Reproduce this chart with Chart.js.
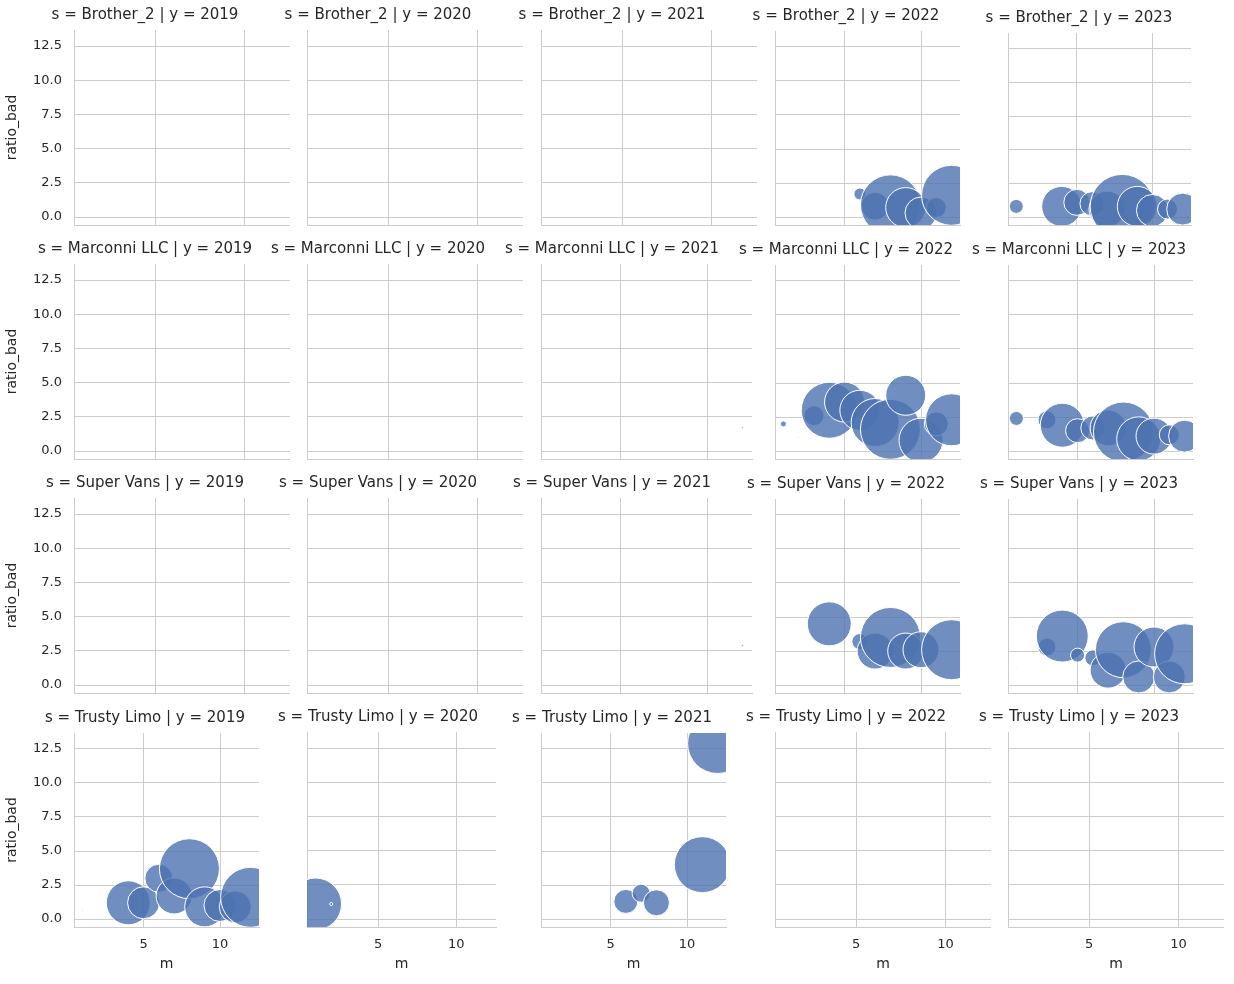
<!DOCTYPE html>
<html><head><meta charset="utf-8">
<script src="https://cdn.jsdelivr.net/npm/chart.js@4"></script>
<style>body{margin:0;background:#fff;width:1234px;height:984px;position:relative;overflow:hidden}canvas{position:absolute}</style>
</head><body>
<script>
const services = ["Brother_2","Marconni LLC","Super Vans","Trusty Limo"];
const years = [2019,2020,2021,2022,2023];
const yTicks = [0,2.5,5,7.5,10,12.5];
const xTicks = [5,10];
// [m, ratio_bad, size]
const brother_2022 = [[6,1.7,6],[7,0.8,14],[8,0.9,30],[9,0.7,20],[10,0.3,16],[11,0.7,10],[12,1.6,30]];
const brother_2023 = [[1,0.8,7],[4,0.8,20],[5,1.1,13],[6,1.0,12],[7,0.6,18],[8,0.8,32],[9,0.8,20],[10,0.5,16],[11,0.6,10],[12,0.6,16]];
const marconni_2021 = [[12,1.7,1]];
const marconni_2022 = [[1,2.0,3],[2,1.0,0.5],[3,2.6,10],[4,3.0,28],[5,3.6,20],[6,3.0,20],[7,2.1,24],[8,1.6,30],[9,4.1,20],[10,0.8,22],[11,2.0,12],[12,2.3,26]];
const marconni_2023 = [[1,2.4,7],[3,2.3,9],[4,1.9,22],[5,1.5,12],[6,1.7,12],[7,1.7,18],[8,1.4,30],[9,0.9,22],[10,1.1,18],[11,1.2,10],[12,1.1,16]];
const vans_2021 = [[12,2.9,1]];
const vans_2022 = [[4,4.5,22],[6,3.2,8],[7,2.5,18],[8,3.5,30],[9,2.5,18],[10,2.6,18],[12,2.6,30]];
const vans_2023 = [[1,1.3,0.5],[3,2.8,9],[4,3.6,26],[5,2.2,7],[6,2.0,8],[7,1.1,18],[8,2.6,28],[9,0.6,16],[10,2.8,20],[11,0.6,16],[12,2.3,30]];
const limo_2019 = [[1,0.6,0.5],[4,1.2,22],[5,1.2,16],[6,3.0,14],[7,1.7,18],[8,3.7,30],[9,0.9,20],[10,1.0,16],[11,0.9,16],[12,1.6,30]];
const limo_2020 = [[1,1.1,26],[2,1.1,1.5]];
const limo_2021 = [[6,1.3,12],[7,1.9,9],[8,1.2,13],[11,4.0,28],[12,12.9,30]];
const panels = {
 "Brother_2|2022":brother_2022,"Brother_2|2023":brother_2023,
 "Marconni LLC|2021":marconni_2021,"Marconni LLC|2022":marconni_2022,"Marconni LLC|2023":marconni_2023,
 "Super Vans|2021":vans_2021,"Super Vans|2022":vans_2022,"Super Vans|2023":vans_2023,
 "Trusty Limo|2019":limo_2019,"Trusty Limo|2020":limo_2020,"Trusty Limo|2021":limo_2021
};
const plotL=[74,307,541,775,1008], plotT=[30,264,498,732], PW=216, PH=195, LW=74, TH=30, BH=50;
const font="'DejaVu Sans', sans-serif";
services.forEach((s,ri)=>{years.forEach((y,ci)=>{
  const c=document.createElement('canvas');
  c.style.left=(plotL[ci]-LW)+'px'; c.style.top=(plotT[ri]-TH)+'px';
  c.style.width=(PW+LW)+'px'; c.style.height=(PH+TH+BH)+'px';
  document.body.appendChild(c);
  const d=(panels[s+'|'+y]||[]).map(p=>({x:p[0],y:p[1],r:p[2]}));
  const first=ci===0, last=ri===3;
  new Chart(c,{type:'bubble',
    data:{datasets:[{data:d,backgroundColor:'rgba(76,114,176,0.8)',borderColor:'#ffffff',borderWidth:1,clip:0}]},
    options:{responsive:false,animation:false,devicePixelRatio:1,
      layout:{padding:0},
      plugins:{legend:{display:false},tooltip:{enabled:false},
        title:{display:true,text:'s = '+s+' | y = '+y,color:'#262626',font:{family:font,size:15,weight:'normal'},padding:{top:6,bottom:6}}},
      scales:{
        x:{type:'linear',min:0.45,max:12.55,
          afterBuildTicks:a=>{a.ticks=xTicks.map(v=>({value:v}));},
          afterFit:a=>{a.height=BH;},
          grid:{color:'#cccccc',drawTicks:false},border:{color:'#cccccc'},
          ticks:{display:last,padding:10,color:'#262626',font:{family:font,size:13}},
          title:{display:last,text:'m',color:'#262626',font:{family:font,size:14},padding:{top:2}}},
        y:{type:'linear',min:-0.58,max:13.67,
          afterBuildTicks:a=>{a.ticks=yTicks.map(v=>({value:v}));},
          afterFit:a=>{a.width=LW;},
          grid:{color:'#cccccc',drawTicks:false},border:{color:'#cccccc'},
          ticks:{display:first,padding:12,color:'#262626',font:{family:font,size:13},callback:v=>v.toFixed(1)},
          title:{display:first,text:'ratio_bad',color:'#262626',font:{family:font,size:14},padding:{bottom:4}}}
      }}});
});});
</script>
</body></html>
